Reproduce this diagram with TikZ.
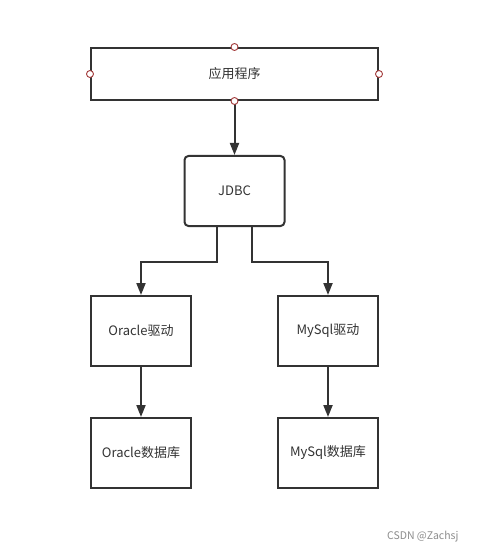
\documentclass[tikz,border=0pt]{standalone}
\usepackage{fontspec}
\setmainfont{Noto Sans CJK SC}
\usetikzlibrary{arrows.meta}
\definecolor{ln}{HTML}{333333}
\definecolor{tx}{HTML}{333333}
\definecolor{pt}{HTML}{A33B3B}
\tikzset{
  box/.style={draw=ln,line width=2pt,fill=white,minimum width=100pt,minimum height=70pt,inner sep=0pt,text=tx,font=\fontsize{13pt}{15pt}\selectfont},
  conn/.style={draw=ln,line width=2pt,-{Triangle[length=12pt,width=9pt]}},
  port/.style={circle,draw=pt,fill=white,line width=0.9pt,minimum size=7pt,inner sep=0pt}
}
\begin{document}
\begin{tikzpicture}[x=1pt,y=-1pt]
\useasboundingbox[fill=white] (0,0) rectangle (476,556);
\node[box,minimum width=287pt,minimum height=52pt] (app) at (234.5,74) {应用程序};
\node[box,rounded corners=4pt] (jdbc) at (234.5,191) {JDBC};
\node[box] (odrv) at (141,331) {Oracle驱动};
\node[box] (mdrv) at (328,331) {MySql驱动};
\node[box] (odb) at (141,453) {Oracle数据库};
\node[box] (mdb) at (328,453) {MySql数据库};
\draw[conn] (app.south) -- (jdbc.north);
\draw[conn] ([xshift=-17.5pt]jdbc.south) -- ++(0,35) -| (odrv.north);
\draw[conn] ([xshift=17.5pt]jdbc.south) -- ++(0,35) -| (mdrv.north);
\draw[conn] (odrv.south) -- (odb.north);
\draw[conn] (mdrv.south) -- (mdb.north);
\node[port] (p1) at (app.north) {};
\node[port] (p2) at (app.south) {};
\node[port] (p3) at (app.west) {};
\node[port] (p4) at (app.east) {};
\node[text=black!45,font=\fontsize{10.5pt}{12pt}\selectfont,anchor=east] (wm) at (462,537) {CSDN @Zachsj};
\end{tikzpicture}
\end{document}
